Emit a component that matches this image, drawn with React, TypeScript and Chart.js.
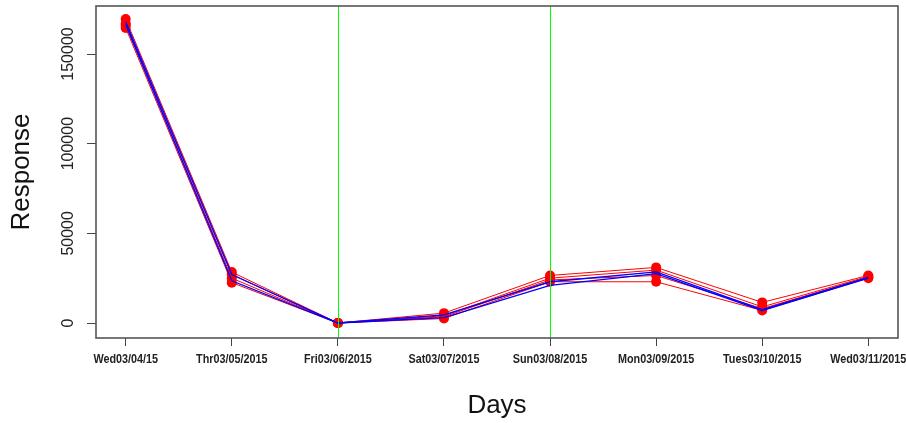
import React, { useEffect, useRef } from "react";
import { Chart, registerables } from "chart.js";

Chart.register(...registerables);

const categories = [
  "Wed03/04/15",
  "Thr03/05/2015",
  "Fri03/06/2015",
  "Sat03/07/2015",
  "Sun03/08/2015",
  "Mon03/09/2015",
  "Tues03/10/2015",
  "Wed03/11/2015",
];

const redA = [169500, 28400, 0, 5500, 26500, 31000, 11500, 26500];
const redB = [164500, 22500, 0, 2500, 23000, 23000, 7000, 25000];
const redC = [167000, 27000, 0, 4000, 25000, 29500, 9000, 26000];
const redD = [166000, 25000, 0, 3500, 24000, 26500, 8000, 25500];
const blueA = [168000, 27000, 0, 4500, 23000, 28500, 7500, 25500];
const blueB = [166500, 23500, 0, 3000, 21000, 27500, 7000, 25000];

const yTicks = [0, 50000, 100000, 150000];
const greenLineDays = [3, 5];

const xTitle = "Days";
const yTitle = "Response";

export default function App() {
  const ref = useRef<HTMLCanvasElement>(null);

  useEffect(() => {
    if (!ref.current) return;
    const toXY = (arr: number[]) => arr.map((v, i) => ({ x: i + 1, y: v }));

    const redSet = (arr: number[]) => ({
      data: toXY(arr),
      borderColor: "#ff0000",
      backgroundColor: "#ff0000",
      borderWidth: 1,
      pointRadius: 5,
      pointBorderWidth: 0,
      pointBackgroundColor: "#ff0000",
      tension: 0,
      order: 2,
    });
    const blueSet = (arr: number[]) => ({
      data: toXY(arr),
      borderColor: "#0000ff",
      backgroundColor: "#0000ff",
      borderWidth: 1.3,
      pointRadius: 0,
      tension: 0,
      order: 1,
    });

    const rPlugin = {
      id: "rstyle",
      afterDatasetsDraw(chart: any) {
        const { ctx, chartArea } = chart;
        const xs = chart.scales.x;
        ctx.save();
        ctx.strokeStyle = "#00ff00";
        ctx.lineWidth = 1;
        greenLineDays.forEach((d) => {
          const px = Math.round(xs.getPixelForValue(d)) + 0.5;
          ctx.beginPath();
          ctx.moveTo(px, chartArea.top);
          ctx.lineTo(px, chartArea.bottom);
          ctx.stroke();
        });
        ctx.restore();
      },
      afterDraw(chart: any) {
        const { ctx, chartArea } = chart;
        const xs = chart.scales.x;
        const ys = chart.scales.y;
        ctx.save();
        // box
        ctx.strokeStyle = "#555";
        ctx.lineWidth = 1.6;
        ctx.strokeRect(chartArea.left, chartArea.top, chartArea.right - chartArea.left, chartArea.bottom - chartArea.top);

        // y tick labels (rotated)
        ctx.fillStyle = "#222";
        ctx.font = '16px "Liberation Sans", Arial, sans-serif';
        ctx.textAlign = "center";
        ctx.textBaseline = "middle";
        yTicks.forEach((v) => {
          const py = ys.getPixelForValue(v);
          ctx.save();
          ctx.translate(69, py);
          ctx.rotate(-Math.PI / 2);
          ctx.fillText(String(v), 0, 0);
          ctx.restore();
        });

        // x tick labels (condensed bold)
        ctx.font = 'bold 12px "Liberation Sans", Arial, sans-serif';
        categories.forEach((c, i) => {
          const px = xs.getPixelForValue(i + 1);
          ctx.save();
          ctx.translate(px, 360);
          ctx.scale(0.9, 1);
          ctx.fillText(c, 0, 0);
          ctx.restore();
        });

        // axis titles
        ctx.font = '26px "Liberation Sans", Arial, sans-serif';
        ctx.fillStyle = "#111";
        ctx.fillText(xTitle, (chartArea.left + chartArea.right) / 2, 406);
        ctx.save();
        ctx.translate(22, (chartArea.top + chartArea.bottom) / 2);
        ctx.rotate(-Math.PI / 2);
        ctx.fillText(yTitle, 0, 0);
        ctx.restore();
        ctx.restore();
      },
    };

    const chart = new Chart(ref.current, {
      type: "line",
      data: {
        datasets: [
          redSet(redA),
          redSet(redB),
          redSet(redC),
          redSet(redD),
          blueSet(blueA),
          blueSet(blueB),
        ] as any,
      },
      options: {
        animation: false,
        responsive: false,
        maintainAspectRatio: false,
        layout: { padding: { top: 6, right: 8, left: 0, bottom: 0 } },
        plugins: { legend: { display: false }, tooltip: { enabled: false } },
        scales: {
          x: {
            type: "linear",
            min: 0.72,
            max: 8.28,
            afterBuildTicks: (s: any) => {
              s.ticks = categories.map((_, i) => ({ value: i + 1 }));
            },
            afterFit: (s: any) => {
              s.height = 85;
            },
            grid: {
              display: true,
              drawOnChartArea: false,
              drawTicks: true,
              tickLength: 8,
              color: "#444",
              lineWidth: 1,
            },
            border: { display: false },
            ticks: { display: false },
          },
          y: {
            type: "linear",
            min: -8364,
            max: 176770,
            afterBuildTicks: (s: any) => {
              s.ticks = yTicks.map((v) => ({ value: v }));
            },
            afterFit: (s: any) => {
              s.width = 96;
            },
            grid: {
              display: true,
              drawOnChartArea: false,
              drawTicks: true,
              tickLength: 9,
              color: "#444",
              lineWidth: 1,
            },
            border: { display: false },
            ticks: { display: false },
          },
        },
      } as any,
      plugins: [rPlugin],
    });
    return () => chart.destroy();
  }, []);

  return (
    <canvas
      ref={ref}
      width={906}
      height={423}
      style={{ position: "fixed", left: 0, top: 0, width: 906, height: 423 }}
    />
  );
}
